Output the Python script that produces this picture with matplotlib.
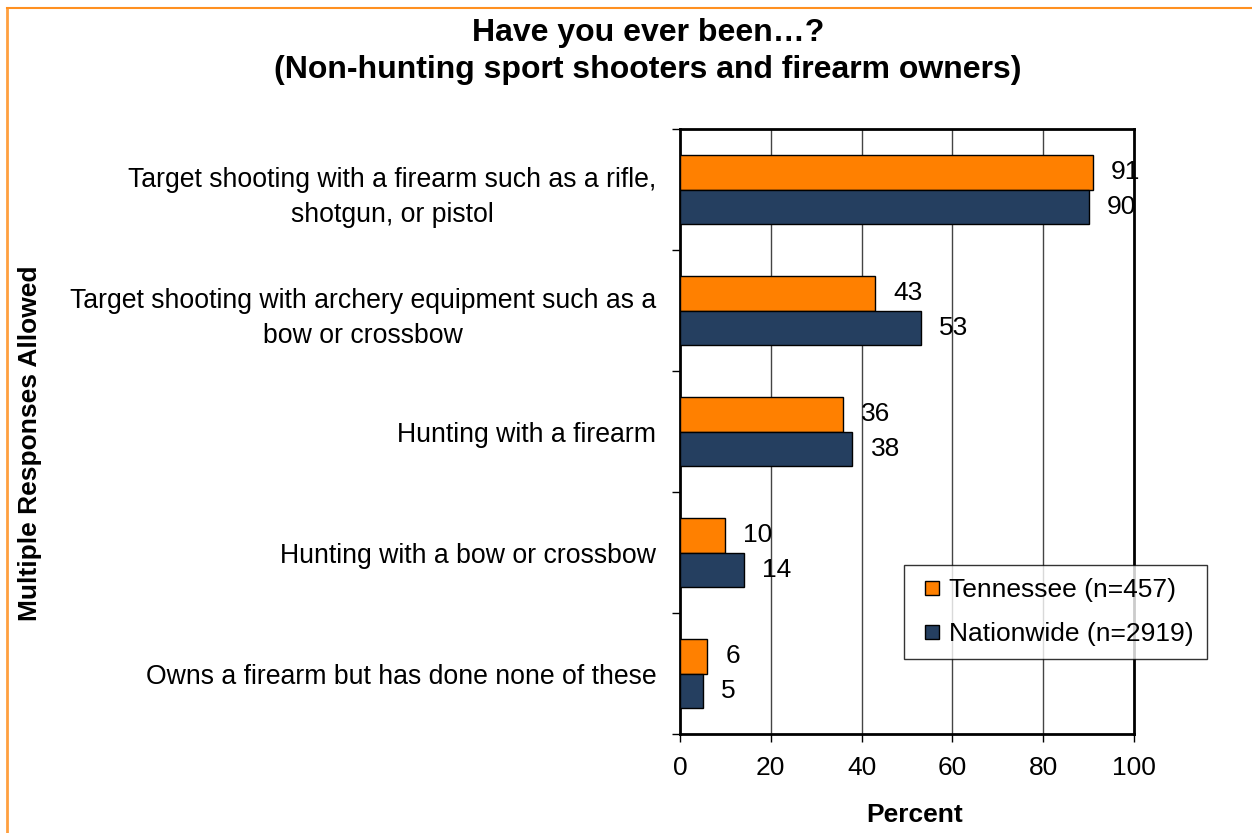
import numpy as np
import matplotlib.pyplot as plt
from matplotlib.lines import Line2D

plt.rcParams['font.family'] = ['Liberation Sans', 'DejaVu Sans']

categories = [
    'Target shooting with a firearm such as a rifle,\nshotgun, or pistol',
    'Target shooting with archery equipment such as a\nbow or crossbow',
    'Hunting with a firearm',
    'Hunting with a bow or crossbow',
    'Owns a firearm but has done none of these',
]
tennessee = [91, 43, 36, 10, 6]
nationwide = [90, 53, 38, 14, 5]
series_names = ['Tennessee (n=457)', 'Nationwide (n=2919)']
x_ticks = [0, 20, 40, 60, 80, 100]

orange = '#FF8000'
navy = '#253F60'
fs = 19

fig = plt.figure(figsize=(12.52, 8.33), dpi=100)
ax = fig.add_axes([0.5431, 0.1188, 0.3626, 0.7263])

y = np.arange(len(categories))
h = 0.285
b1 = ax.barh(y - h / 2, tennessee, height=h, color=orange, edgecolor='black', linewidth=1, zorder=3)
b2 = ax.barh(y + h / 2, nationwide, height=h, color=navy, edgecolor='black', linewidth=1, zorder=3)

for bars, vals in ((b1, tennessee), (b2, nationwide)):
    for bar, v in zip(bars, vals):
        ax.annotate(str(v), (v, bar.get_y() + bar.get_height() / 2),
                    xytext=(13, 0), textcoords='offset points',
                    ha='left', va='center', fontsize=fs, zorder=4)

ax.set_xlim(0, 100)
ax.set_ylim(len(categories) - 0.5, -0.5)
ax.set_xticks(x_ticks)
ax.set_xticklabels([str(t) for t in x_ticks], fontsize=fs)
ax.tick_params(axis='x', direction='out', length=6, width=1, pad=10)

ax.set_yticks(y)
ax.set_yticklabels(categories, fontsize=19.2, multialignment='center', linespacing=1.45)
ax.tick_params(axis='y', which='major', length=0, pad=17)
ax.set_yticks(np.arange(-0.5, len(categories)), minor=True)
ax.tick_params(axis='y', which='minor', direction='out', length=6, width=1)

for x in x_ticks[1:-1]:
    ax.axvline(x, color='#444444', linewidth=1, zorder=1)

for sp in ax.spines.values():
    sp.set_linewidth(2)
    sp.set_color('black')

handles = [Line2D([], [], linestyle='none', marker='s', markersize=10,
                  markerfacecolor=c, markeredgecolor='black', markeredgewidth=1)
           for c in (orange, navy)]
leg = fig.legend(handles, series_names, loc='upper left',
                 bbox_to_anchor=(904 / 1252, 1 - 565 / 833),
                 fontsize=fs, frameon=True, fancybox=False,
                 handlelength=1.1, handletextpad=0.1,
                 labelspacing=0.75, borderpad=0.5, borderaxespad=0)
leg.get_frame().set_edgecolor('black')
leg.get_frame().set_linewidth(1)

fig.text(0.5176, 1 - 33 / 833, 'Have you ever been…?', ha='center', va='center',
         fontsize=23, fontweight='bold')
fig.text(0.5176, 1 - 70 / 833, '(Non-hunting sport shooters and firearm owners)',
         ha='center', va='center', fontsize=23, fontweight='bold')
fig.text(30 / 1252, 1 - 443 / 833, 'Multiple Responses Allowed', rotation=90,
         ha='center', va='center', fontsize=fs, fontweight='bold')
fig.text(915 / 1252, 1 - 815 / 833, 'Percent', ha='center', va='center',
         fontsize=fs, fontweight='bold')

# thin orange frame along top and left edges
fig.add_artist(Line2D([7 / 1252, 7 / 1252], [0, 1 - 8 / 833], color='#FFA040', linewidth=2))
fig.add_artist(Line2D([7 / 1252, 1], [1 - 8 / 833, 1 - 8 / 833], color='#FF9020', linewidth=1.5))

fig.savefig('out.png', dpi=100)
